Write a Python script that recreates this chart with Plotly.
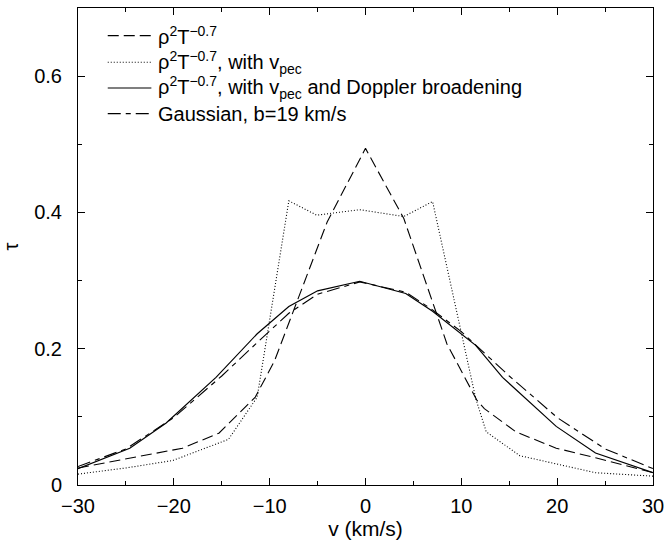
import plotly.graph_objects as go

# ---- data ----
v_rho = [-30, -25, -19.1, -15.3, -11.5, -9.5, -4.0, 0, 4.0, 8.5, 11.6, 12.4, 15.7, 19.9, 24, 30]
tau_rho = [0.025, 0.038, 0.054, 0.076, 0.129, 0.182, 0.386, 0.494, 0.391, 0.207, 0.125, 0.112, 0.078, 0.054, 0.040, 0.018]

v_pec = [-30, -25, -20.1, -14.3, -11.3, -8.0, -5.1, -0.6, 4.0, 7.0, 11.5, 12.6, 16.1, 24, 30]
tau_pec = [0.016, 0.025, 0.036, 0.067, 0.129, 0.417, 0.396, 0.404, 0.394, 0.416, 0.127, 0.078, 0.043, 0.018, 0.013]

v_dop = [-30, -24.6, -20.8, -15.6, -11.3, -8.0, -5.0, -0.6, 4.2, 7.0, 11.5, 14.3, 19.9, 24, 30]
tau_dop = [0.024, 0.054, 0.091, 0.158, 0.222, 0.262, 0.285, 0.299, 0.281, 0.255, 0.205, 0.158, 0.086, 0.047, 0.018]

v_gau = [-30, -25, -20, -15, -11, -8, -5, -0.6, 4.2, 7, 10, 15, 20, 25, 30]
tau_gau = [0.027, 0.053, 0.099, 0.160, 0.213, 0.252, 0.280, 0.298, 0.283, 0.257, 0.225, 0.160, 0.099, 0.053, 0.024]

x_ticks = [-30, -20, -10, 0, 10, 20, 30]
y_ticks = [0, 0.2, 0.4, 0.6]
y_ticktext = ["0", "0.2", "0.4", "0.6"]

legend_labels = [
    "ρ<sup>2</sup>T<sup>−0.7</sup>",
    "ρ<sup>2</sup>T<sup>−0.7</sup>, with v<sub>pec</sub>",
    "ρ<sup>2</sup>T<sup>−0.7</sup>, with v<sub>pec</sub> and Doppler broadening",
    "Gaussian, b=19 km/s",
]

# ---- styles ----
DASH = "11px,5px"
DOT = "1px,2px"
DASHDOT = "13px,5px,5px,5px"
styles = [(DASH, 1.1), (DOT, 1.1), ("solid", 1.2), (DASHDOT, 1.1)]
series = [(v_rho, tau_rho), (v_pec, tau_pec), (v_dop, tau_dop), (v_gau, tau_gau)]

FONT = "Liberation Sans, Arial, Helvetica, sans-serif"

fig = go.Figure()
for (vx, ty), (dash, w), name in zip(series, styles, legend_labels):
    fig.add_trace(go.Scatter(x=vx, y=ty, mode="lines", name=name,
                             line=dict(color="black", width=w, dash=dash),
                             showlegend=False, hoverinfo="skip"))

# plot-area geometry (pixels)
L, R, T, B = 78, 13, 7, 54
W, H = 671, 544
pw, ph = W - L - R, H - T - B

def px(X):
    return (X - L) / pw

def py(Y):
    return (H - B - Y) / ph

leg_y = [35, 62, 88, 114]
shapes = []
annotations = []
for (dash, w), yy, lab in zip(styles, leg_y, legend_labels):
    shapes.append(dict(type="line", xref="paper", yref="paper",
                       x0=px(108), x1=px(152), y0=py(yy), y1=py(yy),
                       line=dict(color="black", width=w, dash=dash)))
    annotations.append(dict(xref="paper", yref="paper", x=px(157), y=py(yy),
                            xanchor="left", yanchor="middle", showarrow=False,
                            text=lab, font=dict(family=FONT, size=20, color="black")))

axis_common = dict(showline=True, linecolor="black", linewidth=1, mirror="ticks",
                   ticks="inside", ticklen=7, tickcolor="black", tickwidth=1,
                   showgrid=False, zeroline=False)

fig.update_layout(
    width=W, height=H,
    margin=dict(l=L, r=R, t=T, b=B, pad=0),
    plot_bgcolor="white", paper_bgcolor="white",
    shapes=shapes, annotations=annotations,
    xaxis=dict(range=[-30, 30], tickvals=x_ticks,
               ticktext=[str(t).replace("-", "−") for t in x_ticks],
               tickfont=dict(family=FONT, size=20, color="black"),
               ticklabelstandoff=3,
               minor=dict(dtick=5, ticks="inside", ticklen=4, tickcolor="black", showgrid=False),
               title=dict(text="v (km/s)", font=dict(family=FONT, size=21, color="black"), standoff=5),
               **axis_common),
    yaxis=dict(range=[0, 0.7], tickvals=y_ticks, ticktext=y_ticktext,
               tickfont=dict(family=FONT, size=20, color="black"),
               ticklabelstandoff=11,
               minor=dict(dtick=0.1, ticks="inside", ticklen=4, tickcolor="black", showgrid=False),
               title=dict(text="τ", font=dict(family=FONT, size=20, color="black"), standoff=12),
               **axis_common),
)

fig.write_html("out.html")
